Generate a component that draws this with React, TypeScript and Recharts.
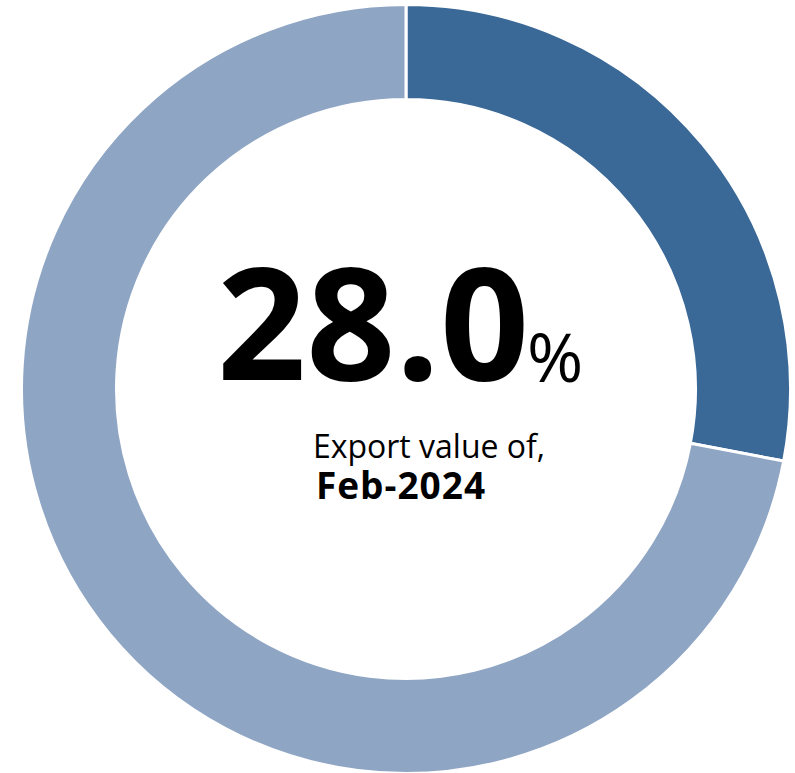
import React from "react";
import { PieChart, Pie, Cell, Label } from "recharts";

const sliceNames = ["Feb-2024", "Other"];
const sliceValues = [28.0, 72.0];
const sliceColors = ["#3A6897", "#8FA5C4"];

const headline = "28.0";
const caption = "Export value of,";
const period = "Feb-2024";

const data = sliceNames.map((name, i) => ({ name, value: sliceValues[i] }));

const FONT = "'Open Sans', 'Noto Sans', sans-serif";
const CX = 406;
const CY = 389;

// centre text block, placed against the ring centre
function CenterText() {
  return (
    <g fontFamily={FONT} fill="#000">
      <text x={CX - 189} y={CY - 9} fontSize={156} fontWeight={700}>
        {headline}
      </text>
      <text x={CX + 121} y={CY - 7} fontSize={68} fontWeight={400}>
        %
      </text>
      <text x={CX + 23} y={CY + 69} fontSize={32} textAnchor="middle">
        {caption}
      </text>
      <text x={CX - 5} y={CY + 110} fontSize={37} fontWeight={700} letterSpacing={1} textAnchor="middle">
        {period}
      </text>
    </g>
  );
}

export default function App() {
  return (
    <div style={{ position: "absolute", left: 0, top: 0, width: 795, height: 773, background: "#fff" }}>
      <PieChart width={795} height={773} margin={{ top: 0, right: 0, bottom: 0, left: 0 }}>
        <Pie
          data={data}
          dataKey="value"
          nameKey="name"
          cx={CX}
          cy={CY}
          innerRadius={289.5}
          outerRadius={384.5}
          startAngle={90}
          endAngle={-270}
          stroke="#fff"
          strokeWidth={3}
          isAnimationActive={false}
        >
          {data.map((d, i) => (
            <Cell key={d.name} fill={sliceColors[i]} />
          ))}
          <Label position="center" content={CenterText} />
        </Pie>
      </PieChart>
    </div>
  );
}
